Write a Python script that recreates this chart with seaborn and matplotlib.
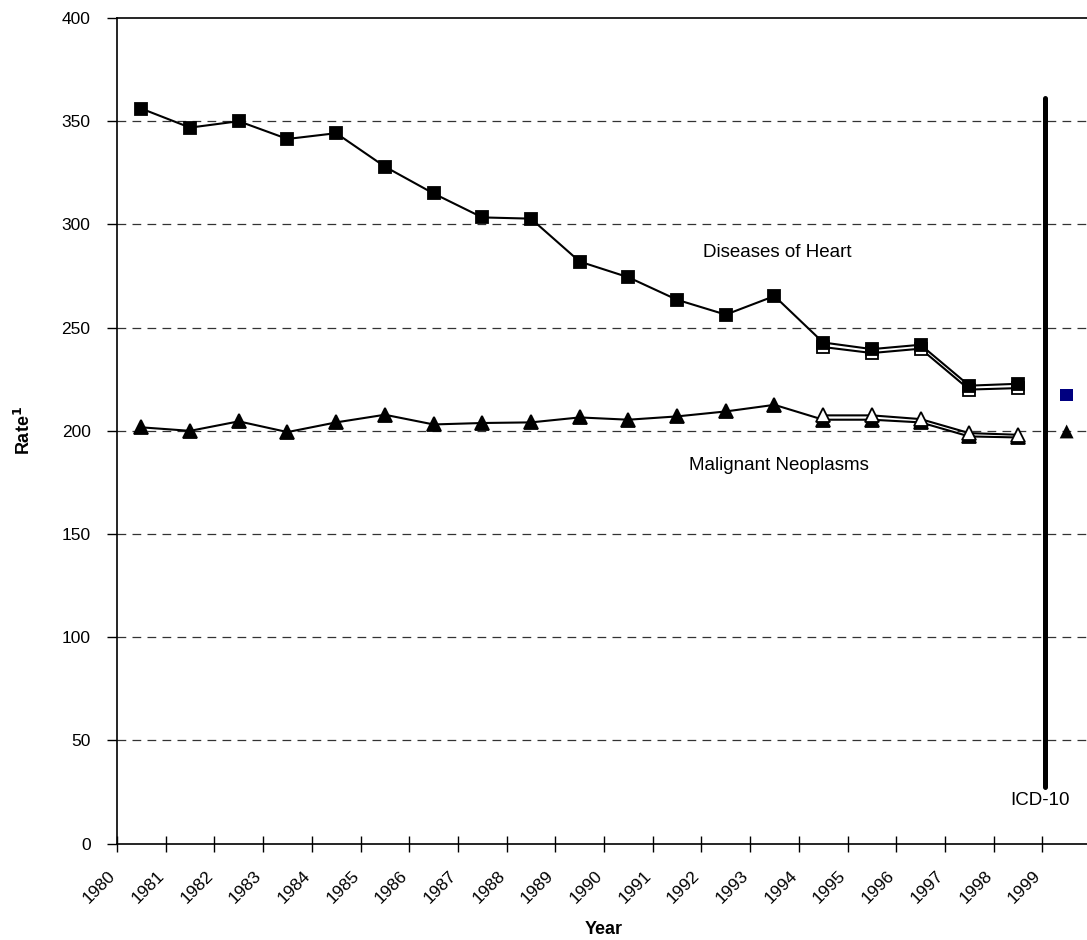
import numpy as np
import pandas as pd
import seaborn as sns
import matplotlib
matplotlib.use("Agg")
import matplotlib.pyplot as plt
import matplotlib.transforms as mtransforms

# data
years = list(range(1980, 1999))
heart = [356.1, 346.9, 350.0, 341.4, 344.2, 328.0, 315.0, 303.4, 302.8, 282.0,
         274.4, 263.5, 256.3, 265.3, 242.8, 239.6, 241.7, 221.9, 222.8]
cancer = [201.7, 200.0, 204.6, 199.4, 204.1, 207.8, 203.1, 203.8, 204.1, 206.5,
          205.4, 207.0, 209.4, 212.6, 205.4, 205.4, 204.1, 197.3, 196.8]
alt_years = [1994, 1995, 1996, 1997, 1998]
heart_alt = [240.6, 237.7, 239.8, 220.0, 220.7]
cancer_alt = [207.5, 207.5, 205.7, 198.9, 198.1]
icd10_year = [1999]
heart_icd10 = [217.5]
cancer_icd10 = [199.7]
tick_years = list(range(1980, 2000))

sns.set_style("ticks")
plt.rcParams['font.family'] = ['Liberation Sans', 'DejaVu Sans']
plt.rcParams['text.color'] = 'black'
plt.rcParams['axes.labelcolor'] = 'black'
plt.rcParams['xtick.color'] = 'black'
plt.rcParams['ytick.color'] = 'black'

fig = plt.figure(figsize=(10.87, 9.40), dpi=100)
ax = fig.add_axes([117 / 1087, 1 - 843.7 / 940, 974 / 1087, (843.7 - 18) / 940])

# points sit in the middle of each year
mid = lambda ys: [y + 0.5 for y in ys]

line_kw = dict(color='black', lw=1.5, markeredgecolor='black', markeredgewidth=1.3)

sns.lineplot(x=mid(alt_years), y=heart_alt, marker='s', ms=9, mfc='white', ax=ax, **line_kw)
sns.lineplot(x=mid(years), y=heart, marker='s', ms=9, ax=ax, **line_kw)
sns.lineplot(x=mid(years), y=cancer, marker='^', ms=10, ax=ax, **line_kw)
sns.lineplot(x=mid(alt_years), y=cancer_alt, marker='^', ms=10, mfc='white', ax=ax, **line_kw)

sns.scatterplot(x=mid(icd10_year), y=heart_icd10, marker='s', s=80, color='#000080',
                edgecolor='none', ax=ax)
sns.scatterplot(x=mid(icd10_year), y=cancer_icd10, marker='^', s=100, color='black',
                edgecolor='none', ax=ax)

# ICD-10 break line
ax.axvline(1999.05, ymin=0.069, ymax=0.903, color='black', lw=3.6)

ax.set_xlim(1980, 2000)
ax.set_ylim(0, 400)
ax.set_yticks(np.arange(0, 401, 50))
ax.set_xticks(tick_years)
ax.set_xticklabels([str(y) for y in tick_years], rotation=45, ha='right', va='center',
                   rotation_mode='anchor', fontsize=12.5)
ax.tick_params(axis='x', direction='inout', length=11, width=1, pad=16, colors='black')
ax.tick_params(axis='y', direction='out', length=7, width=1, labelsize=12.5, pad=12,
               colors='black')

# nudge year labels a little to the left
shift = mtransforms.ScaledTranslation(-4 / 100, 0, fig.dpi_scale_trans)
for lab in ax.get_xticklabels():
    lab.set_transform(lab.get_transform() + shift)

for v in range(50, 400, 50):
    ax.axhline(v, color='#333333', lw=0.9, ls=(0, (7, 5)), zorder=0)

ax.spines['right'].set_visible(False)
for s in ['left', 'bottom', 'top']:
    ax.spines[s].set_linewidth(1.2)
    ax.spines[s].set_color('black')

ax.text(1993.56, 286.3, 'Diseases of Heart', ha='center', va='center', fontsize=13.5)
ax.text(1993.6, 183, 'Malignant Neoplasms', ha='center', va='center', fontsize=13.5)
ax.text(1998.95, 21, 'ICD-10', ha='center', va='center', fontsize=13.5)

ax.set_xlabel('Year', fontsize=13, fontweight='bold')
ax.xaxis.label.set_va('center')
ax.xaxis.set_label_coords(0.5, (843.7 - 930) / 825.7)
ax.set_ylabel(r'Rate$^{\mathbf{1}}$', fontsize=13, fontweight='bold')
ax.yaxis.label.set_va('center')
ax.yaxis.set_label_coords((24 - 117) / 974, 0.5)

fig.savefig('out.png', dpi=100)
